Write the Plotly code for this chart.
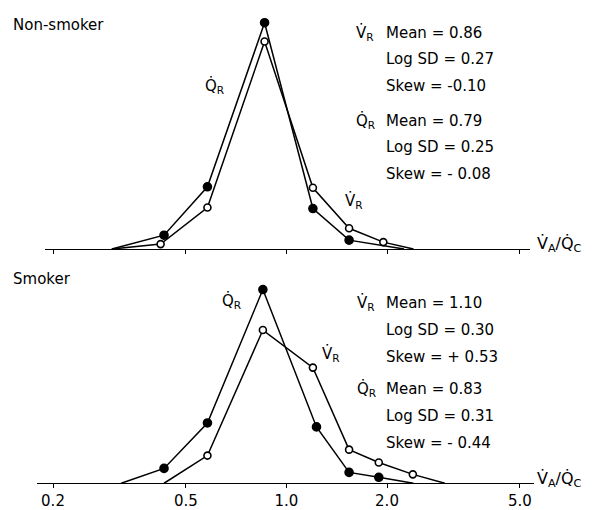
import plotly.graph_objects as go
import math

W, H = 592, 510

# ---- data ----
# Non-smoker
ns_q_x = [0.30, 0.43, 0.58, 0.86, 1.20, 1.54, 2.25]
ns_q_y = [0, 14, 63, 229, 41, 9, 0]
ns_v_x = [0.30, 0.42, 0.58, 0.86, 1.20, 1.54, 1.95, 2.40]
ns_v_y = [0, 5, 42, 210, 62, 21, 7, 0]
# Smoker
sm_q_x = [0.32, 0.43, 0.58, 0.85, 1.23, 1.54, 1.89, 2.40]
sm_q_y = [0, 15, 61, 196, 57, 11, 6, 0]
sm_v_x = [0.43, 0.58, 0.85, 1.20, 1.54, 1.89, 2.39, 2.98]
sm_v_y = [0, 28, 155, 117, 34, 21, 9, 0]

tick_vals = [0.2, 0.5, 1.0, 2.0, 5.0]
tick_text = ["0.2", "0.5", "1.0", "2.0", "5.0"]

ns_stats_v = ["Mean = 0.86", "Log SD = 0.27", "Skew = -0.10"]
ns_stats_q = ["Mean = 0.79", "Log SD = 0.25", "Skew = - 0.08"]
sm_stats_v = ["Mean = 1.10", "Log SD = 0.30", "Skew = + 0.53"]
sm_stats_q = ["Mean = 0.83", "Log SD = 0.31", "Skew = - 0.44"]

VR = "V\u0307<sub>R</sub>"
QR = "Q\u0307<sub>R</sub>"
VAQC = "V\u0307<sub>A</sub>/Q\u0307<sub>C</sub>"

FONT = "DejaVu Sans"
fs = 15

fig = go.Figure()

def add_series(xs, ys, filled, xa, ya):
    sizes = [0 if (i == 0 or i == len(xs) - 1) else (8 if filled else 7) for i in range(len(xs))]
    fig.add_trace(go.Scatter(
        x=xs, y=ys, mode="lines+markers", xaxis=xa, yaxis=ya,
        line=dict(color="black", width=1.5),
        marker=dict(size=sizes, color="#000000" if filled else "#ffffff", opacity=1,
                    line=dict(color="#000000", width=1.6)),
        showlegend=False, hoverinfo="skip"))

add_series(ns_q_x, ns_q_y, True, "x", "y")
add_series(ns_v_x, ns_v_y, False, "x", "y")
add_series(sm_q_x, sm_q_y, True, "x2", "y2")
add_series(sm_v_x, sm_v_y, False, "x2", "y2")

PX_PER_DEC = 334.0
X0PX = 53.0  # pixel of 0.2
def log_at(px):
    return math.log10(0.2) + (px - X0PX) / PX_PER_DEC

up_l, up_r = 45, 530
lo_l, lo_r = 37, 534
up_base, lo_base = 252, 489

common_x = dict(type="log", showgrid=False, zeroline=False, showline=True,
                linecolor="black", linewidth=1.4, ticks="outside", ticklen=4,
                tickcolor="black", tickwidth=1.2, tickvals=tick_vals, ticktext=tick_text,
                fixedrange=True)
fig.update_layout(
    xaxis=dict(domain=[up_l / W, up_r / W], range=[log_at(up_l), log_at(up_r)],
               anchor="y", showticklabels=False, **common_x),
    yaxis=dict(domain=[1 - up_base / H, 1.0], range=[0, up_base], visible=False,
               anchor="x"),
    xaxis2=dict(domain=[lo_l / W, lo_r / W], range=[log_at(lo_l), log_at(lo_r)],
                anchor="y2", showticklabels=True,
                tickfont=dict(family=FONT, size=15, color="black"), **common_x),
    yaxis2=dict(domain=[1 - lo_base / H, 1 - 260 / H], range=[0, lo_base - 260],
                visible=False, anchor="x2"),
    width=W, height=H, margin=dict(l=0, r=0, t=0, b=0),
    paper_bgcolor="white", plot_bgcolor="rgba(0,0,0,0)",
    font=dict(family=FONT, size=fs, color="black"),
)

ann = []
def txt(t, xpx, ypx, anchor="left", size=fs):
    ann.append(dict(text=t, x=xpx / W, y=1 - ypx / H, xref="paper", yref="paper",
                    xanchor=anchor, yanchor="middle", showarrow=False,
                    font=dict(family=FONT, size=size, color="black")))

txt("Non-smoker", 11, 25, size=15)
txt("Smoker", 11, 282, size=15)

# upper stats
txt(VR, 354, 33)
for i, s in enumerate(ns_stats_v):
    txt(s, 384, 33 + i * 27)
txt(QR, 354, 122)
for i, s in enumerate(ns_stats_q):
    txt(s, 384, 122 + i * 27)
txt(QR, 203, 87)
txt(VR, 343, 203)
txt(VAQC, 535, 247, size=16)

# lower stats
txt(VR, 355, 307)
for i, s in enumerate(sm_stats_v):
    txt(s, 384, 307 + i * 27)
txt(QR, 355, 394)
for i, s in enumerate(sm_stats_q):
    txt(s, 384, 394 + i * 27)
txt(QR, 220, 305)
txt(VR, 320, 358)
txt(VAQC, 535, 485, size=16)

fig.update_layout(annotations=ann)
fig.write_html("out.html")
